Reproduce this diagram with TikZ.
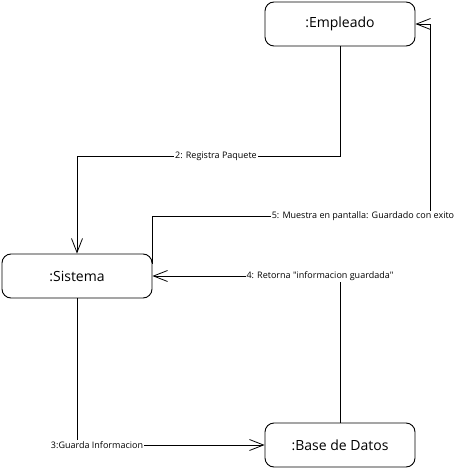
\documentclass[tikz,border=0pt]{standalone}
\usepackage{fontspec}
\setmainfont{Open Sans}
\usepackage{tikz}
\usetikzlibrary{arrows.meta, positioning, calc}

\begin{document}
\begin{tikzpicture}[
  x=1pt, y=-1pt,
  every node/.style={font=\fontsize{9}{10}\selectfont},
  obj/.style={draw, line width=0.9pt, rounded corners=9pt, minimum width=150pt,
              minimum height=44pt, inner sep=1pt, fill=white,
              font=\fontsize{14}{16}\selectfont},
  msg/.style={fill=white, inner sep=1pt},
  arr/.style={line width=0.8pt, -{Straight Barb[length=14pt, width=11pt, line width=0.8pt]}},
]
  \useasboundingbox (0,0) rectangle (464,470);

  % Objects
  \node[obj] (emp) at (340, 24)  {:Empleado};
  \node[obj] (sis) at (77, 276)  {:Sistema};
  \node[obj] (bd)  at (340, 445) {:Base de Datos};

  % Messages
  \draw[arr] (emp.south) -- ++(0, 110) -| (sis.north);
  \node[msg] (m2) at (216, 156) {2: Registra Paquete};

  \draw[arr] (sis.south) |- (bd.west);
  \node[msg] (m3) at (97, 445) {3:Guarda Informacion};

  \draw[arr] (bd.north) |- (sis.east);
  \node[msg] (m4) at (320, 276) {4: Retorna \textquotedbl informacion guardada\textquotedbl};

  \draw[arr] ([yshift=-10pt]sis.north east) |- (430, 216) |- (emp.east);
  \node[msg] (m5) at (363, 216) {5: Muestra en pantalla: Guardado con exito};
\end{tikzpicture}
\end{document}
